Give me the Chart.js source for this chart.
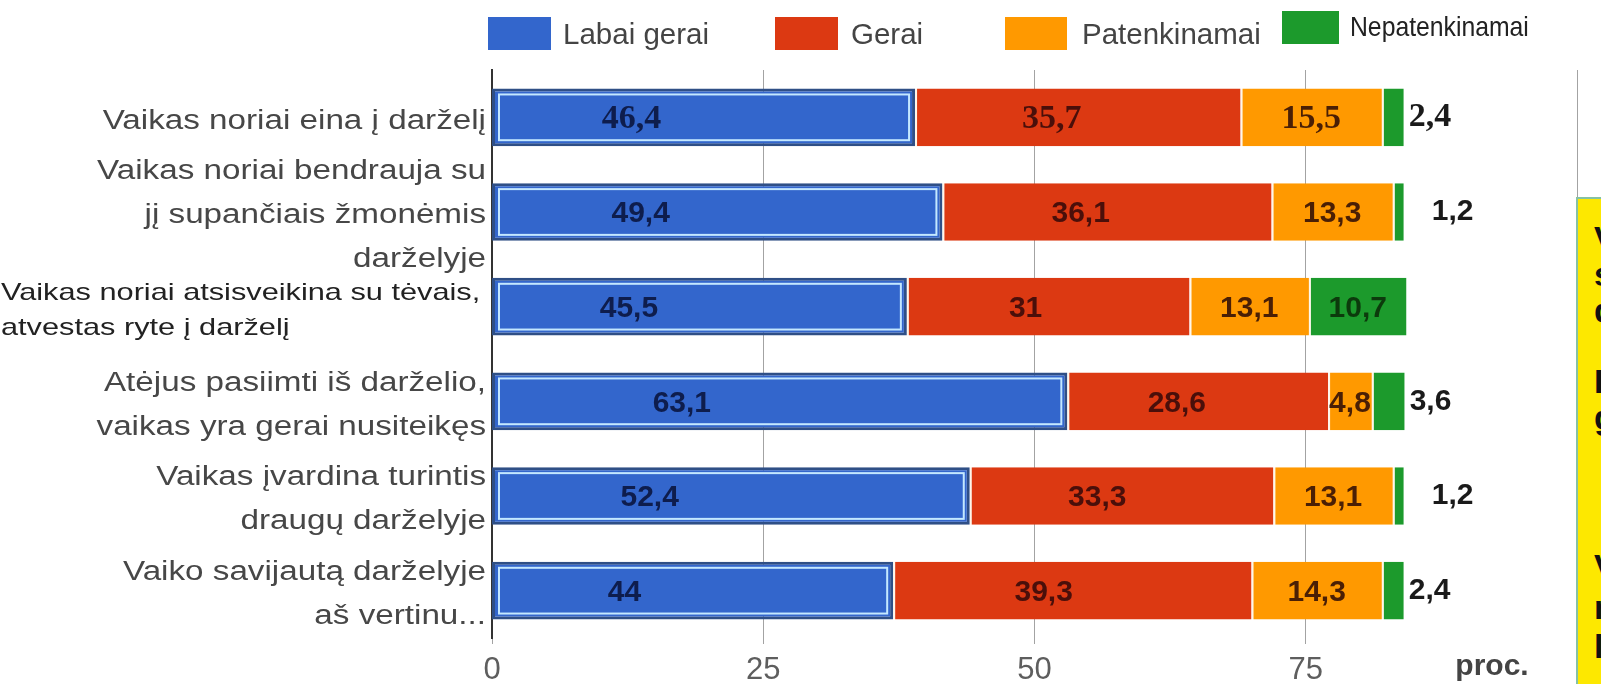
<!DOCTYPE html>
<html>
<head>
<meta charset="utf-8">
<script src="https://cdn.jsdelivr.net/npm/chart.js@4.4.0/dist/chart.umd.min.js"></script>
<style>
  html, body { margin: 0; padding: 0; background: #fff; }
  #wrap { position: relative; width: 1601px; height: 684px; overflow: hidden; }
  #box { position: absolute; left: 0; top: 0; width: 1601px; height: 684px; }
  .sw { position: absolute; height: 33px; }
  .lt { position: absolute; font: 29.5px "Liberation Sans", Arial, sans-serif; color: #444; line-height: 34px; white-space: nowrap; }
  #note { position: absolute; left: 1576px; top: 197px; width: 60px; height: 520px; background: #fde800;
          border: 2px solid #86c2a4; box-sizing: border-box; }
  .nl { position: absolute; left: 16px; font: bold 34px "Liberation Sans", Arial, sans-serif; color: #111; line-height: 34px; }
</style>
</head>
<body>
<div id="wrap">
  <div id="box"><canvas id="bar-chart"></canvas></div>

  <div class="sw" style="left:488px;top:17px;width:63px;background:#3366cc"></div>
  <div class="lt" style="left:563px;top:17px">Labai gerai</div>
  <div class="sw" style="left:775px;top:17px;width:63px;background:#dc3912"></div>
  <div class="lt" style="left:851px;top:17px">Gerai</div>
  <div class="sw" style="left:1005px;top:17px;width:62px;background:#ff9900"></div>
  <div class="lt" style="left:1082px;top:17px">Patenkinamai</div>
  <div class="sw" style="left:1282px;top:11px;width:57px;background:#1c9a2c"></div>
  <div class="lt" style="left:1350px;top:10px;font-size:27.5px;color:#222;transform:scaleX(0.9);transform-origin:left">Nepatenkinamai</div>

  <div id="note">
    <div class="nl" style="top:22px">V</div>
    <div class="nl" style="top:58px">s</div>
    <div class="nl" style="top:94px">d</div>
    <div class="nl" style="top:165px">I</div>
    <div class="nl" style="top:201px">g</div>
    <div class="nl" style="top:350px">V</div>
    <div class="nl" style="top:391px">n</div>
    <div class="nl" style="top:430px">l</div>
  </div>
</div>

<script>
const categories = [
  ['Vaikas noriai eina į darželį'],
  ['Vaikas noriai bendrauja su', 'jį supančiais žmonėmis', 'darželyje'],
  ['Vaikas noriai atsisveikina su tėvais,', 'atvestas ryte į darželį'],
  ['Atėjus pasiimti iš darželio,', 'vaikas yra gerai nusiteikęs'],
  ['Vaikas įvardina turintis', 'draugų darželyje'],
  ['Vaiko savijautą darželyje', 'aš vertinu...']
];
const seriesNames = ['Labai gerai', 'Gerai', 'Patenkinamai', 'Nepatenkinamai'];
const labaiGerai = [46.4, 49.4, 45.5, 63.1, 52.4, 44];
const gerai = [35.7, 36.1, 31, 28.6, 33.3, 39.3];
const patenkinamai = [15.5, 13.3, 13.1, 4.8, 13.1, 14.3];
const nepatenkinamai = [2.4, 1.2, 10.7, 3.6, 1.2, 2.4];
const tickValues = [0, 25, 50, 75, 100];
const tickLabels = ['0', '25', '50', '75', ''];
const unitLabel = 'proc.';

const colors = ['#3366cc', '#dc3912', '#ff9900', '#1c9a2c'];
const labelColors = ['#0e1d4d', '#4a0f0a', '#4a1f05', '#0c3a0c'];

function wideText(ctx, text, x, y, align, sx) {
  ctx.save();
  ctx.translate(x, y);
  ctx.scale(sx, 1);
  ctx.textAlign = align;
  ctx.fillText(text, 0, 0);
  ctx.restore();
}

// category names, blue bar inner line, value labels, "proc."
const decorate = {
  id: 'decorate',
  afterDatasetsDraw(chart) {
    const ctx = chart.ctx;
    ctx.save();
    chart.getDatasetMeta(0).data.forEach(bar => {
      const left = Math.min(bar.base, bar.x);
      const w = Math.abs(bar.x - bar.base);
      const h = bar.height;
      ctx.strokeStyle = '#c4e8ff';
      ctx.lineWidth = 2;
      ctx.strokeRect(left + 7, bar.y - h / 2 + 6, w - 13, h - 12);
    });

    ctx.textBaseline = 'middle';
    chart.data.datasets.forEach((ds, di) => {
      chart.getDatasetMeta(di).data.forEach((bar, i) => {
        const v = ds.data[i];
        const text = String(v).replace('.', ',');
        const left = Math.min(bar.base, bar.x);
        const w = Math.abs(bar.x - bar.base);
        ctx.font = i === 0 ? 'bold 34px "Liberation Serif", serif' : 'bold 30px "Liberation Sans", Arial, sans-serif';
        if (di === 3 && v < 5) {
          // small shares sit to the right of the bar
          ctx.fillStyle = '#1a1a1a';
          ctx.textAlign = 'left';
          ctx.fillText(text, bar.x + (v < 2 ? 28 : 5), bar.y);
        } else {
          const f = [0.33, 0.42, 0.5, 0.5][di];
          ctx.fillStyle = labelColors[di];
          ctx.textAlign = 'center';
          ctx.fillText(text, left + w * f, bar.y + 2);
        }
      });
    });
    ctx.restore();
  },
  afterDraw(chart) {
    const ctx = chart.ctx;
    const y = chart.scales.y;
    ctx.save();
    ctx.textBaseline = 'middle';
    categories.forEach((lines, i) => {
      const cy = y.getPixelForValue(i) + 4;
      const odd = i === 2;
      const lh = odd ? 35 : 44;
      ctx.font = odd ? '24px "Liberation Sans", Arial, sans-serif' : '27px "Liberation Sans", Arial, sans-serif';
      ctx.fillStyle = odd ? '#222' : '#474747';
      lines.forEach((t, k) => {
        const ly = cy + (k - (lines.length - 1) / 2) * lh;
        if (odd) wideText(ctx, t, 1, ly, 'left', 1.28);
        else wideText(ctx, t, 486, ly, 'right', 1.23);
      });
    });
    ctx.font = 'bold 30px "Liberation Sans", Arial, sans-serif';
    ctx.fillStyle = '#444';
    ctx.textAlign = 'center';
    ctx.fillText(unitLabel, 1492, 667);
    ctx.restore();
  }
};

const seriesData = [labaiGerai, gerai, patenkinamai, nepatenkinamai];

new Chart('bar-chart', {
  type: 'bar',
  data: {
    labels: categories.map(c => c.join(' ')),
    datasets: seriesNames.map((name, di) => ({
      label: name,
      data: seriesData[di],
      backgroundColor: colors[di],
      borderColor: di === 0 ? '#2f4f86' : '#fff7ea',
      borderWidth: di === 0 ? 3 : {left: 2, right: 0, top: 0, bottom: 0},
      borderSkipped: false,
      xAxisID: 'x',
      barPercentage: 1,
      categoryPercentage: 0.61
    }))
  },
  options: {
    indexAxis: 'y',
    responsive: true,
    maintainAspectRatio: false,
    animation: false,
    layout: { padding: { top: 70, right: 24, bottom: 0, left: 0 } },
    plugins: { legend: { display: false }, tooltip: { enabled: false } },
    scales: {
      x: { stacked: true, min: 0, max: 119, display: false },
      x2: {
        type: 'linear',
        position: 'bottom',
        min: 0,
        max: 100,
        afterBuildTicks: s => { s.ticks = tickValues.map(v => ({ value: v })); },
        afterFit: s => { s.height = 46; },
        grid: { color: '#a3a3a3', lineWidth: 1, tickLength: 6, drawOnChartArea: true },
        border: { display: false },
        ticks: {
          padding: 8,
          color: '#5e5e5e',
          font: { family: '"Liberation Sans", Arial, sans-serif', size: 31 },
          callback: (v, idx) => tickLabels[idx]
        }
      },
      y: {
        stacked: true,
        grid: { display: false },
        border: { display: true, color: '#333', width: 2 },
        ticks: { display: false },
        afterFit: s => { s.width = 492; }
      }
    }
  },
  plugins: [decorate]
});
</script>
</body>
</html>
